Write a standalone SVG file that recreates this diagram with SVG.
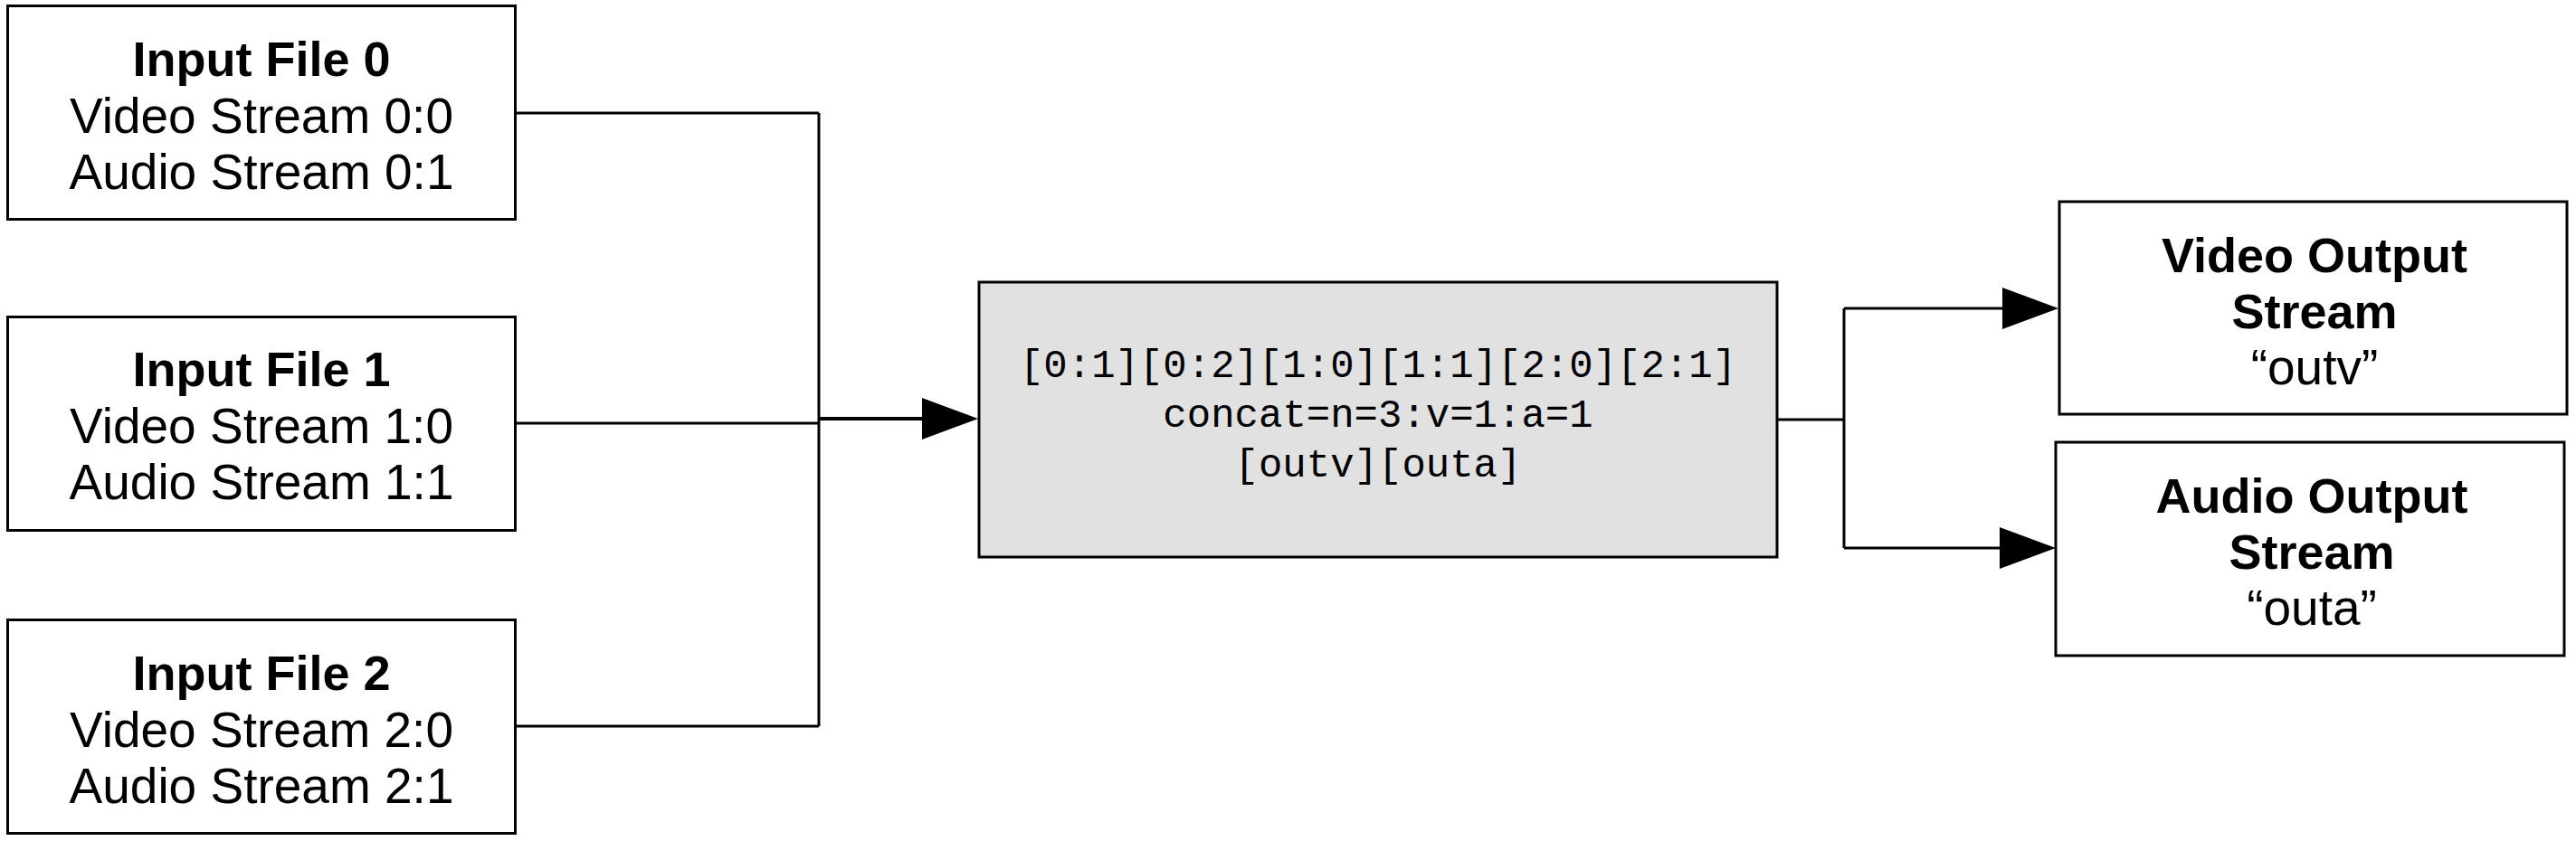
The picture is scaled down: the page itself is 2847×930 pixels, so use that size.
<svg xmlns="http://www.w3.org/2000/svg" width="2847" height="930" viewBox="0 0 2847 930">
<style>
.box{fill:#ffffff;stroke:#000000;stroke-width:3}
.filter{fill:#e1e1e1;stroke:#000000;stroke-width:3}
.t{font-family:"Liberation Sans",Arial,Helvetica,sans-serif;font-size:55px;fill:#000000;text-anchor:middle}
.b{font-weight:bold;font-size:54px}
.mono{font-family:"Liberation Mono","DejaVu Sans Mono",monospace;font-size:44px;fill:#000000;text-anchor:middle}
.c{fill:none;stroke:#000000;stroke-width:3}
.ca{fill:none;stroke:#000000;stroke-width:4}
</style>
<defs>
<marker id="arrow" markerUnits="userSpaceOnUse" markerWidth="64" markerHeight="48" refX="0" refY="23" orient="auto" overflow="visible">
<path d="M0,0 L62,23 L0,46 Z" fill="#000000"/>
</marker>
</defs>
<rect width="2847" height="930" fill="#ffffff"/>
<g id="connectors">
<path class="c" d="M570,125 H905"/>
<path class="c" d="M570,468 H905"/>
<path class="c" d="M570,803 H905"/>
<path class="c" d="M905,125 V803"/>
<path class="ca" d="M905,463 H1019" marker-end="url(#arrow)"/>
<path class="c" d="M1964,464 H2038"/>
<path class="c" d="M2038,341 V606"/>
<path class="c" d="M2038,341 H2213" marker-end="url(#arrow)"/>
<path class="c" d="M2038,606 H2210" marker-end="url(#arrow)"/>
</g>
<g id="input0">
<rect class="box" x="8.5" y="6.5" width="561" height="236"/>
<text class="t b" x="289" y="84">Input File 0</text>
<text class="t" x="289" y="147">Video Stream 0:0</text>
<text class="t" x="289" y="209">Audio Stream 0:1</text>
</g>
<g id="input1">
<rect class="box" x="8.5" y="350.5" width="561" height="236"/>
<text class="t b" x="289" y="427">Input File 1</text>
<text class="t" x="289" y="490">Video Stream 1:0</text>
<text class="t" x="289" y="552">Audio Stream 1:1</text>
</g>
<g id="input2">
<rect class="box" x="8.5" y="685.5" width="561" height="236"/>
<text class="t b" x="289" y="763">Input File 2</text>
<text class="t" x="289" y="826">Video Stream 2:0</text>
<text class="t" x="289" y="888">Audio Stream 2:1</text>
</g>
<g id="filter">
<rect class="filter" x="1082" y="312" width="882" height="304"/>
<text class="mono" x="1523" y="417">[0:1][0:2][1:0][1:1][2:0][2:1]</text>
<text class="mono" x="1523" y="472">concat=n=3:v=1:a=1</text>
<text class="mono" x="1523" y="527">[outv][outa]</text>
</g>
<g id="video_out">
<rect class="box" x="2276" y="223" width="561" height="235"/>
<text class="t b" x="2558" y="301">Video Output</text>
<text class="t b" x="2558" y="363">Stream</text>
<text class="t" x="2558" y="425">“outv”</text>
</g>
<g id="audio_out">
<rect class="box" x="2272" y="489" width="562" height="236"/>
<text class="t b" x="2555" y="567">Audio Output</text>
<text class="t b" x="2555" y="629">Stream</text>
<text class="t" x="2555" y="691">“outa”</text>
</g>
</svg>
